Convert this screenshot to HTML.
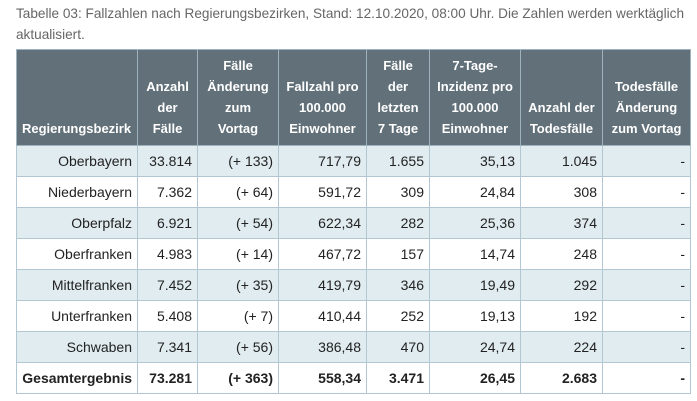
<!DOCTYPE html>
<html><head><meta charset="utf-8"><style>
body{margin:0;width:697px;height:401px;background:#fff;font-family:"Liberation Sans",sans-serif;overflow:hidden}
.t{position:absolute;left:16px;top:3px;width:685px;font-size:13.6px;line-height:21px;color:#666;white-space:nowrap}
table{position:absolute;left:16px;top:49px;width:674px;table-layout:fixed;border-collapse:collapse;font-size:14px;color:#222}
td,th{border:1.5px solid #b3c7d3;padding:0 5px;text-align:right;height:31px;box-sizing:border-box;white-space:nowrap;overflow:hidden}
th{background:#617079;color:#fff;text-align:center;font-size:13px;line-height:21px;vertical-align:bottom;padding:0 2px 6px;height:96px;border-color:#9fb3bf}
th:first-child{text-align:left;padding-left:5px}
tr.a td{background:#e1ecf1}
tr.b td{font-weight:bold}
</style></head><body>
<div class="t">Tabelle 03: Fallzahlen nach Regierungsbezirken, Stand: 12.10.2020, 08:00 Uhr. Die Zahlen werden werktäglich<br>aktualisiert.</div>
<table>
<colgroup><col style="width:121px"><col style="width:60px"><col style="width:81px"><col style="width:88px"><col style="width:63px"><col style="width:91px"><col style="width:82px"><col style="width:88px"></colgroup>
<tr><th>Regierungsbezirk</th><th>Anzahl<br>der<br>Fälle</th><th>Fälle<br>Änderung<br>zum<br>Vortag</th><th>Fallzahl pro<br>100.000<br>Einwohner</th><th>Fälle<br>der<br>letzten<br>7 Tage</th><th>7-Tage-<br>Inzidenz pro<br>100.000<br>Einwohner</th><th>Anzahl der<br>Todesfälle</th><th>Todesfälle<br>Änderung<br>zum Vortag</th></tr>
<tr class="a"><td>Oberbayern</td><td>33.814</td><td>(+ 133)</td><td>717,79</td><td>1.655</td><td>35,13</td><td>1.045</td><td>-</td></tr>
<tr><td>Niederbayern</td><td>7.362</td><td>(+ 64)</td><td>591,72</td><td>309</td><td>24,84</td><td>308</td><td>-</td></tr>
<tr class="a"><td>Oberpfalz</td><td>6.921</td><td>(+ 54)</td><td>622,34</td><td>282</td><td>25,36</td><td>374</td><td>-</td></tr>
<tr><td>Oberfranken</td><td>4.983</td><td>(+ 14)</td><td>467,72</td><td>157</td><td>14,74</td><td>248</td><td>-</td></tr>
<tr class="a"><td>Mittelfranken</td><td>7.452</td><td>(+ 35)</td><td>419,79</td><td>346</td><td>19,49</td><td>292</td><td>-</td></tr>
<tr><td>Unterfranken</td><td>5.408</td><td>(+ 7)</td><td>410,44</td><td>252</td><td>19,13</td><td>192</td><td>-</td></tr>
<tr class="a"><td>Schwaben</td><td>7.341</td><td>(+ 56)</td><td>386,48</td><td>470</td><td>24,74</td><td>224</td><td>-</td></tr>
<tr class="b"><td>Gesamtergebnis</td><td>73.281</td><td>(+ 363)</td><td>558,34</td><td>3.471</td><td>26,45</td><td>2.683</td><td>-</td></tr>
</table>
</body></html>
